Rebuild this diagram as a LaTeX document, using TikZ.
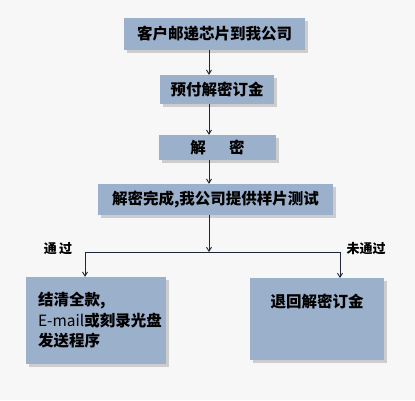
\documentclass[tikz,border=0pt]{standalone}
\usepackage{fontspec}
\newfontfamily\cjk{Noto Sans CJK SC}
\usetikzlibrary{arrows.meta, shadows}
\definecolor{boxblue}{HTML}{9BB0CB}
\definecolor{pagegray}{HTML}{F7F7F7}
\definecolor{linenavy}{HTML}{1C2838}

\begin{document}
\begin{tikzpicture}[x=1pt, y=-1pt,
    flow box/.style={fill=boxblue, inner sep=0pt,
        font=\cjk\bfseries\fontsize{15.5pt}{20.5pt}\selectfont,
        drop shadow={shadow xshift=3pt, shadow yshift=-3pt, fill=gray!60, opacity=0.6}},
    flow arrow/.style={draw=linenavy, line width=0.9pt, -{Straight Barb[length=4pt, width=5pt]}},
    flow line/.style={draw=linenavy, line width=0.9pt},
    branch label/.style={font=\cjk\bfseries\fontsize{13pt}{15pt}\selectfont}]
    \fill[pagegray] (0,0) rectangle (415,400);

    \node[flow box, minimum width=181pt, minimum height=32pt] (deliver) at (214.5,34) {客户邮递芯片到我公司};
    \node[flow box, minimum width=114pt, minimum height=29pt] (prepay) at (217,89.5) {预付解密订金};
    \node[flow box, minimum width=117pt, minimum height=25pt] (decrypt) at (217.5,147.5) {解\hspace{1.5em}密};
    \node[flow box, minimum width=235pt, minimum height=31pt] (report) at (215.5,199.5) {解密完成,我公司提供样片测试};

    \node[flow box, minimum width=140pt, minimum height=87pt, text width=116pt, align=left] (pay) at (96,320.5) {结清全款,\\\mbox{\mdseries E-mail}或刻录光盘\\发送程序};
    \node[flow box, anchor=north, minimum width=134pt, text height=29.5pt, text depth=52.5pt] (refund) at (317,278) {退回解密订金};

    \node[branch label] (passed) at (58,249) {通\,过};
    \node[branch label] (failed) at (366,249) {未通过};

    \coordinate (spine) at (209,0);
    \coordinate (split) at (209,252);
    \coordinate (leftturn) at (85,252);
    \coordinate (rightturn) at (340,252);

    \draw[flow arrow] (deliver.south -| spine) -- (prepay.north -| spine);
    \draw[flow arrow] (prepay.south -| spine) -- (decrypt.north -| spine);
    \draw[flow arrow] (decrypt.south -| spine) -- (report.north -| spine);
    \draw[flow arrow] (report.south -| spine) -- (split);
    \draw[flow line] (leftturn) -- (rightturn);
    \draw[flow arrow] (leftturn) -- (pay.north -| leftturn);
    \draw[flow arrow] (rightturn) -- (refund.north -| rightturn);
\end{tikzpicture}
\end{document}
